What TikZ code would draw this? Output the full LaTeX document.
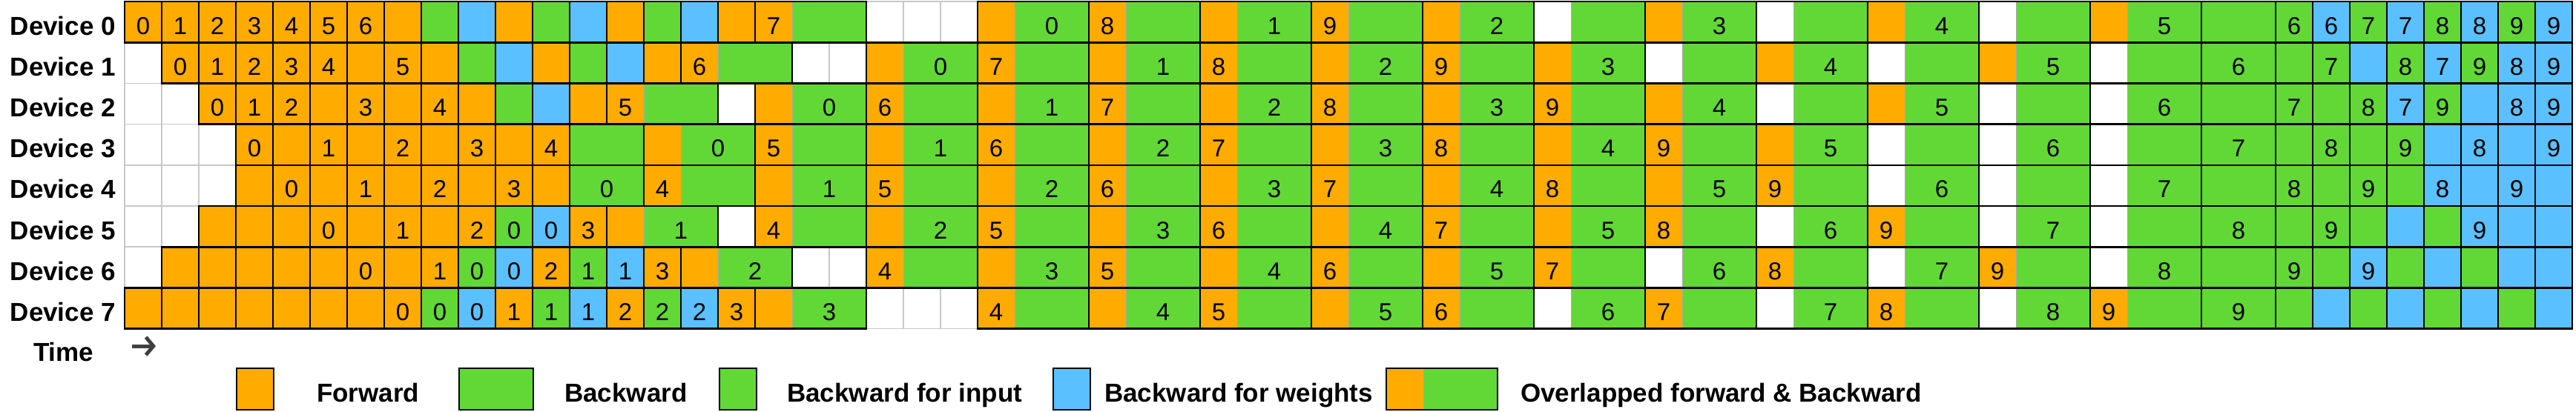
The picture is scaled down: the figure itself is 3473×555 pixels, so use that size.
\documentclass[tikz,border=0pt]{standalone}
\usepackage{fontspec}
\setmainfont{Liberation Sans}
\usetikzlibrary{arrows.meta}
\definecolor{fw}{HTML}{FFAB00}
\definecolor{bw}{HTML}{62D836}
\definecolor{ww}{HTML}{5BC0FF}
\definecolor{gl}{HTML}{C8C8C8}
\definecolor{seam}{HTML}{A8A8A8}
\tikzset{
 blk/.style={draw=black, line width=2.6pt, line join=miter},
 num/.style={anchor=base, inner sep=0pt, font=\fontsize{33}{36}\selectfont},
 dev/.style={anchor=base east, inner sep=0pt, font=\bfseries\fontsize{35}{40}\selectfont},
 leg/.style={anchor=base west, inner sep=0pt, font=\bfseries\fontsize{35}{40}\selectfont},
 emptycell/.style={draw=gl, line width=1.5pt, fill=white},
 seamline/.style={draw=seam, line width=1pt},
}
\newcommand\SC[4]{%
 \path[blk, fill=#3] ({168+50*#2},{2+55.2*#1}) rectangle ++(50,55.2);
 \node[num] (c-#1-#2) at ({193+50*#2},{46+55.2*#1}) {#4};}
\newcommand\GGb[3]{%
 \path[blk, fill=bw] ({168+50*#2},{2+55.2*#1}) rectangle ++(100,55.2);
 \node[num] (g-#1-#2) at ({218+50*#2},{46+55.2*#1}) {#3};}
\newcommand\OGGb[4]{%
 \fill[fw] ({168+50*#2},{2+55.2*#1}) rectangle ++(50,55.2);
 \fill[bw] ({218+50*#2},{2+55.2*#1}) rectangle ++(100,55.2);
 \draw[seamline] ({218+50*#2},{2+55.2*#1}) -- ++(0,55.2);
 \draw[blk] ({168+50*#2},{2+55.2*#1}) rectangle ++(150,55.2);
 \node[num] (f-#1-#2) at ({193+50*#2},{46+55.2*#1}) {#3};
 \node[num] (b-#1-#2) at ({268+50*#2},{46+55.2*#1}) {#4};}
\newcommand\WGGb[3]{%
 \fill[white] ({168+50*#2},{2+55.2*#1}) rectangle ++(50,55.2);
 \fill[bw] ({218+50*#2},{2+55.2*#1}) rectangle ++(100,55.2);
 \draw[seamline] ({218+50*#2},{2+55.2*#1}) -- ++(0,55.2);
 \draw[blk] ({168+50*#2},{2+55.2*#1}) rectangle ++(150,55.2);
 \node[num] (w-#1-#2) at ({268+50*#2},{46+55.2*#1}) {#3};}
\newcommand\Wcell[2]{\path[emptycell] ({168+50*#2},{2+55.2*#1}) rectangle ++(50,55.2);}
\begin{document}
\begin{tikzpicture}[x=1pt,y=-1pt]
\useasboundingbox (0,0) rectangle (3473,555);
\fill[white] (0,0) rectangle (3473,555);
% empty cells
\foreach \r/\c in {0/20,0/21,0/22,1/0,1/18,1/19,2/0,2/1,2/16,3/0,3/1,3/2,4/0,4/1,4/2,5/0,5/1,5/16,6/0,6/18,6/19,7/20,7/21,7/22} {\Wcell{\r}{\c}}
% row 0
\foreach \c/\l in {0/0,1/1,2/2,3/3,4/4,5/5,6/6,7/{}} {\SC{0}{\c}{fw}{\l}}
\SC{0}{8}{bw}{} \SC{0}{9}{ww}{} \SC{0}{10}{fw}{} \SC{0}{11}{bw}{} \SC{0}{12}{ww}{} \SC{0}{13}{fw}{} \SC{0}{14}{bw}{} \SC{0}{15}{ww}{} \SC{0}{16}{fw}{}
\OGGb{0}{17}{7}{}
\OGGb{0}{23}{}{0} \OGGb{0}{26}{8}{} \OGGb{0}{29}{}{1} \OGGb{0}{32}{9}{} \OGGb{0}{35}{}{2} \WGGb{0}{38}{} \OGGb{0}{41}{}{3} \WGGb{0}{44}{} \OGGb{0}{47}{}{4} \WGGb{0}{50}{} \OGGb{0}{53}{}{5} \GGb{0}{56}{}
\SC{0}{58}{bw}{6} \SC{0}{59}{ww}{6} \SC{0}{60}{bw}{7} \SC{0}{61}{ww}{7} \SC{0}{62}{bw}{8} \SC{0}{63}{ww}{8} \SC{0}{64}{bw}{9} \SC{0}{65}{ww}{9}
% row 1
\foreach \c/\l in {1/0,2/1,3/2,4/3,5/4,6/{},7/5,8/{}} {\SC{1}{\c}{fw}{\l}}
\SC{1}{9}{bw}{} \SC{1}{10}{ww}{} \SC{1}{11}{fw}{} \SC{1}{12}{bw}{} \SC{1}{13}{ww}{} \SC{1}{14}{fw}{}
\OGGb{1}{15}{6}{}
\OGGb{1}{20}{}{0} \OGGb{1}{23}{7}{} \OGGb{1}{26}{}{1} \OGGb{1}{29}{8}{} \OGGb{1}{32}{}{2} \OGGb{1}{35}{9}{} \OGGb{1}{38}{}{3} \WGGb{1}{41}{} \OGGb{1}{44}{}{4} \WGGb{1}{47}{} \OGGb{1}{50}{}{5} \WGGb{1}{53}{} \GGb{1}{56}{6}
\SC{1}{58}{bw}{} \SC{1}{59}{bw}{7} \SC{1}{60}{ww}{} \SC{1}{61}{bw}{8} \SC{1}{62}{ww}{7} \SC{1}{63}{bw}{9} \SC{1}{64}{ww}{8} \SC{1}{65}{ww}{9}
% row 2
\foreach \c/\l in {2/0,3/1,4/2,5/{},6/3,7/{},8/4,9/{}} {\SC{2}{\c}{fw}{\l}}
\SC{2}{10}{bw}{} \SC{2}{11}{ww}{} \SC{2}{12}{fw}{}
\OGGb{2}{13}{5}{} \OGGb{2}{17}{}{0} \OGGb{2}{20}{6}{} \OGGb{2}{23}{}{1} \OGGb{2}{26}{7}{} \OGGb{2}{29}{}{2} \OGGb{2}{32}{8}{} \OGGb{2}{35}{}{3} \OGGb{2}{38}{9}{} \OGGb{2}{41}{}{4} \WGGb{2}{44}{} \OGGb{2}{47}{}{5} \WGGb{2}{50}{} \WGGb{2}{53}{6} \GGb{2}{56}{}
\SC{2}{58}{bw}{7} \SC{2}{59}{bw}{} \SC{2}{60}{bw}{8} \SC{2}{61}{ww}{7} \SC{2}{62}{bw}{9} \SC{2}{63}{ww}{} \SC{2}{64}{ww}{8} \SC{2}{65}{ww}{9}
% row 3
\foreach \c/\l in {3/0,4/{},5/1,6/{},7/2,8/{},9/3,10/{},11/4} {\SC{3}{\c}{fw}{\l}}
\GGb{3}{12}{}
\OGGb{3}{14}{}{0} \OGGb{3}{17}{5}{} \OGGb{3}{20}{}{1} \OGGb{3}{23}{6}{} \OGGb{3}{26}{}{2} \OGGb{3}{29}{7}{} \OGGb{3}{32}{}{3} \OGGb{3}{35}{8}{} \OGGb{3}{38}{}{4} \OGGb{3}{41}{9}{} \OGGb{3}{44}{}{5} \WGGb{3}{47}{} \WGGb{3}{50}{6} \WGGb{3}{53}{} \GGb{3}{56}{7}
\SC{3}{58}{bw}{} \SC{3}{59}{bw}{8} \SC{3}{60}{bw}{} \SC{3}{61}{bw}{9} \SC{3}{62}{ww}{} \SC{3}{63}{ww}{8} \SC{3}{64}{ww}{} \SC{3}{65}{ww}{9}
% row 4
\foreach \c/\l in {3/{},4/0,5/{},6/1,7/{},8/2,9/{},10/3,11/{}} {\SC{4}{\c}{fw}{\l}}
\GGb{4}{12}{0}
\OGGb{4}{14}{4}{} \OGGb{4}{17}{}{1} \OGGb{4}{20}{5}{} \OGGb{4}{23}{}{2} \OGGb{4}{26}{6}{} \OGGb{4}{29}{}{3} \OGGb{4}{32}{7}{} \OGGb{4}{35}{}{4} \OGGb{4}{38}{8}{} \OGGb{4}{41}{}{5} \OGGb{4}{44}{9}{} \WGGb{4}{47}{6} \WGGb{4}{50}{} \WGGb{4}{53}{7} \GGb{4}{56}{}
\SC{4}{58}{bw}{8} \SC{4}{59}{bw}{} \SC{4}{60}{bw}{9} \SC{4}{61}{bw}{} \SC{4}{62}{ww}{8} \SC{4}{63}{ww}{} \SC{4}{64}{ww}{9} \SC{4}{65}{ww}{}
% row 5
\foreach \c/\l in {2/{},3/{},4/{},5/0,6/{},7/1,8/{},9/2} {\SC{5}{\c}{fw}{\l}}
\SC{5}{10}{bw}{0} \SC{5}{11}{ww}{0} \SC{5}{12}{fw}{3}
\OGGb{5}{13}{}{1} \OGGb{5}{17}{4}{} \OGGb{5}{20}{}{2} \OGGb{5}{23}{5}{} \OGGb{5}{26}{}{3} \OGGb{5}{29}{6}{} \OGGb{5}{32}{}{4} \OGGb{5}{35}{7}{} \OGGb{5}{38}{}{5} \OGGb{5}{41}{8}{} \WGGb{5}{44}{6} \OGGb{5}{47}{9}{} \WGGb{5}{50}{7} \WGGb{5}{53}{} \GGb{5}{56}{8}
\SC{5}{58}{bw}{} \SC{5}{59}{bw}{9} \SC{5}{60}{bw}{} \SC{5}{61}{ww}{} \SC{5}{62}{bw}{} \SC{5}{63}{ww}{9} \SC{5}{64}{ww}{} \SC{5}{65}{ww}{}
% row 6
\foreach \c/\l in {1/{},2/{},3/{},4/{},5/{},6/0,7/{},8/1} {\SC{6}{\c}{fw}{\l}}
\SC{6}{9}{bw}{0} \SC{6}{10}{ww}{0} \SC{6}{11}{fw}{2} \SC{6}{12}{bw}{1} \SC{6}{13}{ww}{1} \SC{6}{14}{fw}{3}
\OGGb{6}{15}{}{2} \OGGb{6}{20}{4}{} \OGGb{6}{23}{}{3} \OGGb{6}{26}{5}{} \OGGb{6}{29}{}{4} \OGGb{6}{32}{6}{} \OGGb{6}{35}{}{5} \OGGb{6}{38}{7}{} \WGGb{6}{41}{6} \OGGb{6}{44}{8}{} \WGGb{6}{47}{7} \OGGb{6}{50}{9}{} \WGGb{6}{53}{8} \GGb{6}{56}{}
\SC{6}{58}{bw}{9} \SC{6}{59}{bw}{} \SC{6}{60}{ww}{9} \SC{6}{61}{bw}{} \SC{6}{62}{ww}{} \SC{6}{63}{bw}{} \SC{6}{64}{ww}{} \SC{6}{65}{ww}{}
% row 7
\foreach \c/\l in {0/{},1/{},2/{},3/{},4/{},5/{},6/{},7/0} {\SC{7}{\c}{fw}{\l}}
\SC{7}{8}{bw}{0} \SC{7}{9}{ww}{0} \SC{7}{10}{fw}{1} \SC{7}{11}{bw}{1} \SC{7}{12}{ww}{1} \SC{7}{13}{fw}{2} \SC{7}{14}{bw}{2} \SC{7}{15}{ww}{2} \SC{7}{16}{fw}{3}
\OGGb{7}{17}{}{3} \OGGb{7}{23}{4}{} \OGGb{7}{26}{}{4} \OGGb{7}{29}{5}{} \OGGb{7}{32}{}{5} \OGGb{7}{35}{6}{} \WGGb{7}{38}{6} \OGGb{7}{41}{7}{} \WGGb{7}{44}{7} \OGGb{7}{47}{8}{} \WGGb{7}{50}{8} \OGGb{7}{53}{9}{} \GGb{7}{56}{9}
\SC{7}{58}{bw}{} \SC{7}{59}{ww}{} \SC{7}{60}{bw}{} \SC{7}{61}{ww}{} \SC{7}{62}{bw}{} \SC{7}{63}{ww}{} \SC{7}{64}{bw}{} \SC{7}{65}{ww}{}
% device labels
\foreach \r in {0,...,7} {\node[dev] (d\r) at (156,{47+55.2*\r}) {Device \r};}
% time
\node[leg] (time) at (45,487) {Time};
\coordinate (ta) at (178,467);
\coordinate (tb) at (210,467);
\draw[line width=5pt, black!75, line cap=butt, -{Straight Barb[length=10pt,width=24pt,line width=5pt]}] (ta) -- (tb);
% legend
\path[blk, fill=fw] (319,497) rectangle (369,553);
\node[leg] (l1) at (427,542) {Forward};
\path[blk, fill=bw] (619,497) rectangle (719,553);
\node[leg] (l2) at (761,542) {Backward};
\path[blk, fill=bw] (970,497) rectangle (1020,553);
\node[leg] (l3) at (1061,542) {Backward for input};
\path[blk, fill=ww] (1420,497) rectangle (1470,553);
\node[leg] (l4) at (1489,542) {Backward for weights};
\fill[fw] (1869,497) rectangle (1919,553);
\fill[bw] (1919,497) rectangle (2019,553);
\draw[seamline] (1919,497) -- (1919,553);
\draw[blk] (1869,497) rectangle (2019,553);
\node[leg] (l5) at (2050,542) {Overlapped forward \& Backward};
\end{tikzpicture}
\end{document}
